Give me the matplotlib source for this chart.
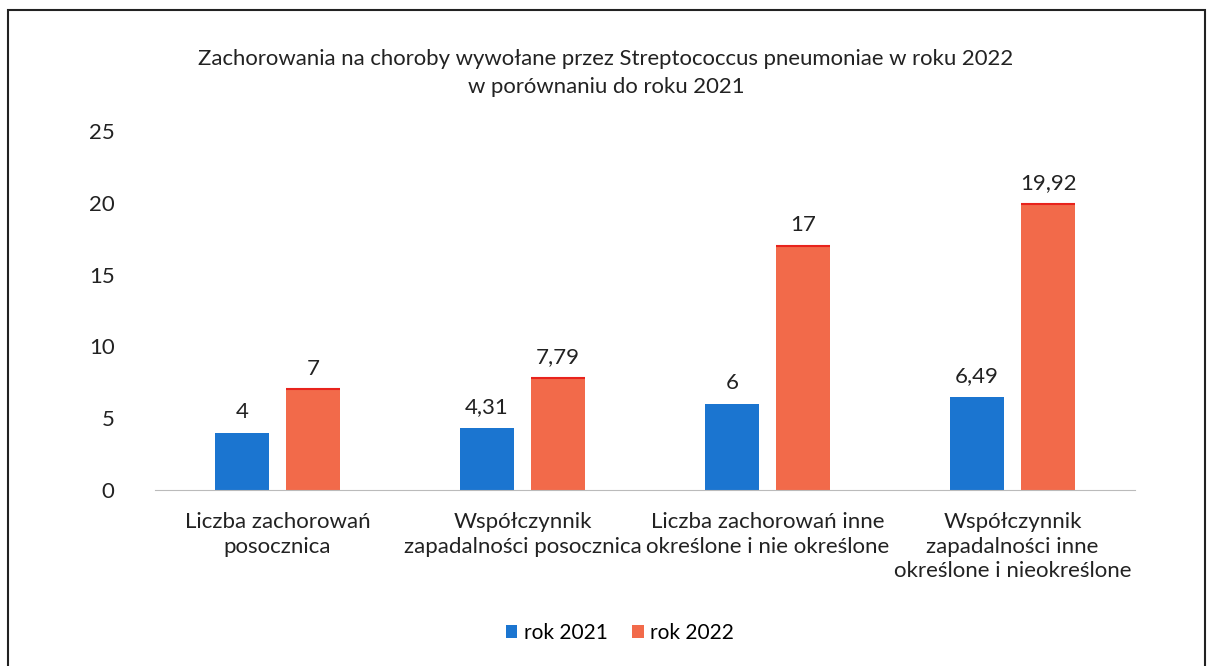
import matplotlib.pyplot as plt
import numpy as np

categories = ["Liczba zachorowań\nposocznica",
              "Współczynnik\nzapadalności posocznica",
              "Liczba zachorowań inne\nokreślone i nie określone",
              "Współczynnik\nzapadalności inne\nokreślone i nieokreślone"]
rok_2021 = [4, 4.31, 6, 6.49]
rok_2022 = [7, 7.79, 17, 19.92]
labels_2021 = ["4", "4,31", "6", "6,49"]
labels_2022 = ["7", "7,79", "17", "19,92"]

plt.rcParams['font.family'] = ['Lato', 'DejaVu Sans']

fig = plt.figure(figsize=(12.11, 6.66), dpi=100)
# frame around the chart, like in the scan
fig.add_artist(plt.Rectangle((8 / 1211, -0.05), 1197 / 1211, 1.05 - 10 / 666,
                             fill=False, edgecolor='#222222', linewidth=1.5,
                             transform=fig.transFigure))

ax = fig.add_axes([155 / 1211, 1 - 490 / 666, 980 / 1211, (490 - 131) / 666])

x = np.arange(len(categories))
w = 0.224
off = 0.145
b1 = ax.bar(x - off, rok_2021, w, color='#1b75d0', label='rok 2021')
b2 = ax.bar(x + off, rok_2022, w, color='#f26a4a', label='rok 2022')
# thin red top edge of the 2022 bars
ax.hlines(rok_2022, x + off - w / 2, x + off + w / 2, color='#e8231c', linewidth=1.5)

fs = 16
for xi, v, t in zip(x - off, rok_2021, labels_2021):
    ax.text(xi, v + 0.75, t, ha='center', va='bottom', fontsize=fs, color='#222222')
for xi, v, t in zip(x + off, rok_2022, labels_2022):
    ax.text(xi, v + 0.75, t, ha='center', va='bottom', fontsize=fs, color='#222222')

ax.set_xlim(-0.5, 3.5)
ax.set_ylim(0, 25)
ax.set_yticks([0, 5, 10, 15, 20, 25])
ax.set_xticks(x)
ax.set_xticklabels(categories, fontsize=fs, color='#222222', linespacing=1.28, va='top')
ax.tick_params(axis='y', labelsize=fs, colors='#222222', length=0, pad=29)
ax.tick_params(axis='x', length=0, pad=16)
for s in ['top', 'right', 'left']:
    ax.spines[s].set_visible(False)
ax.spines['bottom'].set_color('#bbbbbb')

fig.text(606 / 1211, 1 - 73 / 666, "Zachorowania na choroby wywołane przez Streptococcus pneumoniae w roku 2022\nw porównaniu do roku 2021",
         ha='center', va='center', fontsize=15.9, color='#222222', linespacing=1.45)

fig.legend(handles=[b1, b2], loc='center', bbox_to_anchor=(620 / 1211, 1 - 633 / 666), ncol=2,
           frameon=False, fontsize=15, handlelength=0.55, handleheight=0.55,
           handletextpad=0.3, columnspacing=1.2)

fig.savefig('out.png', dpi=100, facecolor='white')
